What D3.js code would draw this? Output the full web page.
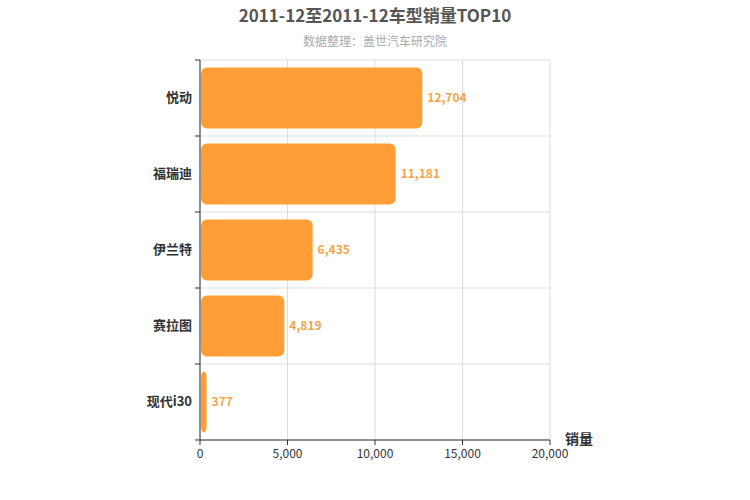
<!DOCTYPE html>
<html><head><meta charset="utf-8">
<script src="https://cdn.jsdelivr.net/npm/d3@7"></script>
<style>body{margin:0;font-family:"Noto Sans CJK SC","Noto Sans",sans-serif;}</style>
</head><body><svg id="chart" width="750" height="500"></svg>
<script>
// chart data
const models = ['悦动', '福瑞迪', '伊兰特', '赛拉图', '现代i30'];
const sales = [12704, 11181, 6435, 4819, 377];
const xTicks = [0, 5000, 10000, 15000, 20000];

const svg = d3.select('#chart');
const plotLeft = 200, plotRight = 550, plotTop = 60, plotBottom = 440;

const x = d3.scaleLinear().domain([0, 20000]).range([plotLeft, plotRight]);
const y = d3.scaleBand().domain(models).range([plotTop, plotBottom]).paddingInner(0.2).paddingOuter(0.1);
const bandEdges = d3.range(models.length + 1).map(i => plotTop + i * (plotBottom - plotTop) / models.length);

// grid
svg.selectAll('.vgrid').data(xTicks).enter().append('line')
    .attr('x1', d => x(d)).attr('x2', d => x(d))
    .attr('y1', plotTop).attr('y2', plotBottom)
    .attr('stroke', '#ddd');
svg.selectAll('.hgrid').data(bandEdges).enter().append('line')
    .attr('x1', plotLeft).attr('x2', plotRight)
    .attr('y1', d => d).attr('y2', d => d)
    .attr('stroke', '#ddd');

// bars
svg.selectAll('.bar').data(models).enter().append('rect')
    .attr('x', plotLeft + 1)
    .attr('y', d => y(d))
    .attr('width', (d, i) => x(sales[i]) - plotLeft - 1)
    .attr('height', y.bandwidth())
    .attr('rx', 6)
    .attr('fill', '#FF9E37');

svg.selectAll('.val').data(models).enter().append('text')
    .attr('x', (d, i) => x(sales[i]) + 5)
    .attr('y', d => y(d) + y.bandwidth() / 2 + 4)
    .attr('fill', '#F4A54A').attr('font-size', 12).attr('font-weight', 'bold')
    .text((d, i) => d3.format(',')(sales[i]));

// left axis
svg.append('line').attr('x1', plotLeft).attr('x2', plotLeft).attr('y1', plotTop).attr('y2', plotBottom).attr('stroke', '#333');
svg.selectAll('.ytick').data(bandEdges).enter().append('line')
    .attr('x1', plotLeft - 5).attr('x2', plotLeft).attr('y1', d => d).attr('y2', d => d).attr('stroke', '#333');
svg.selectAll('.ylab').data(models).enter().append('text')
    .attr('x', plotLeft - 8).attr('y', d => y(d) + y.bandwidth() / 2 + 4)
    .attr('text-anchor', 'end').attr('font-size', 13).attr('font-weight', 'bold').attr('fill', '#333')
    .text(d => d);

// bottom axis
svg.append('line').attr('x1', plotLeft).attr('x2', plotRight).attr('y1', plotBottom).attr('y2', plotBottom).attr('stroke', '#333');
svg.selectAll('.xtick').data(xTicks).enter().append('line')
    .attr('x1', d => x(d)).attr('x2', d => x(d)).attr('y1', plotBottom).attr('y2', plotBottom + 5).attr('stroke', '#333');
svg.selectAll('.xlab').data(xTicks).enter().append('text')
    .attr('x', d => x(d)).attr('y', plotBottom + 18)
    .attr('text-anchor', 'middle').attr('font-size', 12).attr('fill', '#333')
    .text(d => d3.format(',')(d));
svg.append('text').attr('x', 565).attr('y', 444).attr('font-size', 14).attr('font-weight', 'bold').attr('fill', '#333').text('销量');

// titles
svg.append('text').attr('x', 375).attr('y', 22).attr('text-anchor', 'middle')
    .attr('font-size', 17).attr('font-weight', 'bold').attr('fill', '#555')
    .text('2011-12至2011-12车型销量TOP10');
svg.append('text').attr('x', 375).attr('y', 46).attr('text-anchor', 'middle')
    .attr('font-size', 12).attr('fill', '#aaa')
    .text('数据整理：盖世汽车研究院');
</script></body></html>
